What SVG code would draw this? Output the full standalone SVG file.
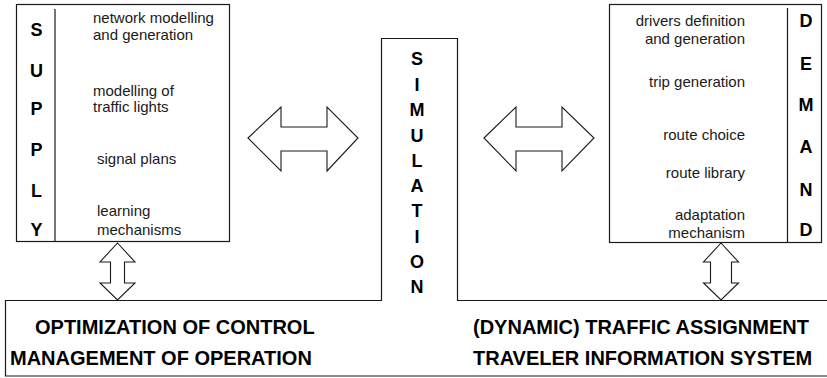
<svg xmlns="http://www.w3.org/2000/svg" width="827" height="378" viewBox="0 0 827 378">
<style>
.ln{fill:none;stroke:#1a1a1a;stroke-width:1.2}
.box{fill:#fff;stroke:#1a1a1a;stroke-width:1.2}
.arr{fill:#fff;stroke:#1a1a1a;stroke-width:1.1;stroke-linejoin:miter}
.big{font-family:"Liberation Sans",Arial,sans-serif;font-weight:bold;font-size:18px;fill:#000;text-anchor:middle}
.sm{font-family:"Liberation Sans",Arial,sans-serif;font-size:15px;fill:#1a1a1a}
.r{text-anchor:end}
.bt{font-family:"Liberation Sans",Arial,sans-serif;font-weight:bold;font-size:20px;fill:#000}
</style>
<rect width="827" height="378" fill="#fff"/>
<g id="bottom-simulation">
<path class="ln" d="M827,300.5 H457.5 V38.5 H381.5 V300.5 H5.5 V376 H827"/>
<text class="big" x="417" y="65">S</text>
<text class="big" x="417" y="91">I</text>
<text class="big" x="417" y="116">M</text>
<text class="big" x="417" y="141.5">U</text>
<text class="big" x="417" y="167">L</text>
<text class="big" x="417" y="192">A</text>
<text class="big" x="417" y="217">T</text>
<text class="big" x="417" y="242.5">I</text>
<text class="big" x="417" y="268">O</text>
<text class="big" x="417" y="293">N</text>
<text class="bt" x="35" y="334">OPTIMIZATION OF CONTROL</text>
<text class="bt" x="10" y="365">MANAGEMENT OF OPERATION</text>
<text class="bt" x="473" y="334">(DYNAMIC) TRAFFIC ASSIGNMENT</text>
<text class="bt" x="473" y="365">TRAVELER INFORMATION SYSTEM</text>
</g>
<g id="supply">
<rect class="box" x="16.5" y="4.5" width="213" height="237"/>
<line class="ln" x1="55" y1="9" x2="55" y2="241"/>
<text class="big" x="36.5" y="36">S</text>
<text class="big" x="36.5" y="77">U</text>
<text class="big" x="36.5" y="115">P</text>
<text class="big" x="36.5" y="156">P</text>
<text class="big" x="36.5" y="197">L</text>
<text class="big" x="36.5" y="236">Y</text>
<text class="sm" x="93" y="23">network modelling</text>
<text class="sm" x="93" y="40">and generation</text>
<text class="sm" x="93" y="96">modelling of</text>
<text class="sm" x="93" y="112">traffic lights</text>
<text class="sm" x="97" y="164">signal plans</text>
<text class="sm" x="97" y="216">learning</text>
<text class="sm" x="97" y="235">mechanisms</text>
</g>
<g id="demand">
<rect class="box" x="609.5" y="4.5" width="212" height="238"/>
<line class="ln" x1="787.5" y1="8" x2="787.5" y2="242"/>
<text class="big" x="806" y="27">D</text>
<text class="big" x="806" y="69.5">E</text>
<text class="big" x="806" y="111">M</text>
<text class="big" x="806" y="153">A</text>
<text class="big" x="806" y="196">N</text>
<text class="big" x="806" y="235.5">D</text>
<text class="sm r" x="745" y="26">drivers definition</text>
<text class="sm r" x="745" y="44">and generation</text>
<text class="sm r" x="745" y="87">trip generation</text>
<text class="sm r" x="745" y="140">route choice</text>
<text class="sm r" x="745" y="178">route library</text>
<text class="sm r" x="745" y="220">adaptation</text>
<text class="sm r" x="745" y="238">mechanism</text>
</g>
<g id="connectors">
<polygon class="arr" points="248,138 281,107 281,127 327,127 327,107 358,138 327,171 327,151 281,151 281,171"/>
<polygon class="arr" points="484,138 516,107 516,127 562,127 562,107 594,138 562,171 562,151 516,151 516,171"/>
<polygon class="arr" points="117.5,243 135,262 124.5,262 124.5,283 135,283 117.5,300 100,283 110.5,283 110.5,262 100,262"/>
<polygon class="arr" points="721,243 738.5,262 731.5,262 731.5,283 738.5,283 721,300 703.5,283 710.5,283 710.5,262 703.5,262"/>
</g>
</svg>
